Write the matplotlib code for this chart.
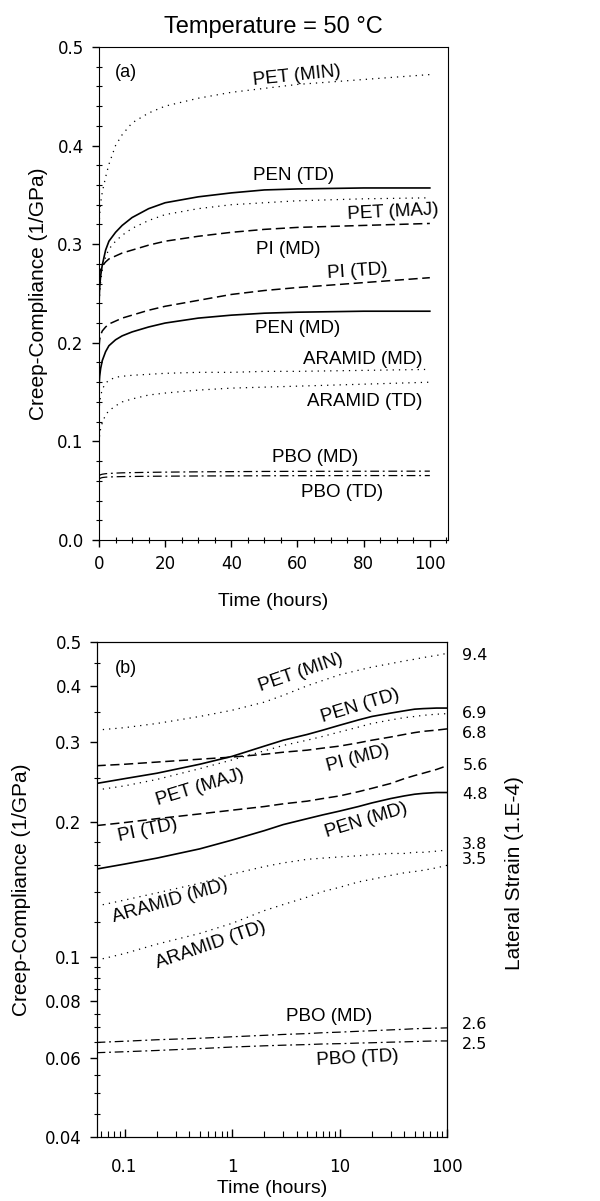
import matplotlib
matplotlib.use("Agg")
import matplotlib.pyplot as plt
import matplotlib.ticker as mticker

plt.rcParams['font.family'] = ['Liberation Sans', 'DejaVu Sans']

# creep data (time in hours, compliance in 1/GPa)
hours = [0.055, 0.1, 0.2, 0.5, 1, 2, 3, 5, 7, 10, 15, 20, 30, 40, 50, 60, 80, 100]
pet_min = [0.319, 0.323, 0.330, 0.342, 0.353, 0.368, 0.381, 0.400, 0.411, 0.423, 0.433, 0.440,
           0.448, 0.454, 0.458, 0.462, 0.467, 0.472]
pen_td = [0.243, 0.249, 0.256, 0.268, 0.279, 0.294, 0.303, 0.312, 0.319, 0.327, 0.336, 0.342,
          0.348, 0.352, 0.355, 0.356, 0.357, 0.357]
pet_maj = [0.235, 0.240, 0.248, 0.262, 0.274, 0.287, 0.295, 0.303, 0.309, 0.316, 0.324, 0.330,
           0.336, 0.340, 0.342, 0.344, 0.346, 0.347]
pi_md = [0.266, 0.268, 0.271, 0.275, 0.278, 0.282, 0.285, 0.288, 0.291, 0.294, 0.299, 0.303,
         0.308, 0.312, 0.315, 0.317, 0.319, 0.321]
pi_td = [0.196, 0.199, 0.203, 0.208, 0.212, 0.216, 0.219, 0.222, 0.225, 0.228, 0.233, 0.237,
         0.243, 0.249, 0.253, 0.256, 0.261, 0.266]
pen_md = [0.157, 0.161, 0.166, 0.174, 0.182, 0.191, 0.197, 0.203, 0.207, 0.211, 0.216, 0.220,
          0.225, 0.228, 0.230, 0.231, 0.232, 0.232]
aramid_md = [0.130, 0.134, 0.139, 0.146, 0.153, 0.159, 0.162, 0.165, 0.166, 0.167, 0.168, 0.169,
             0.170, 0.170, 0.171, 0.171, 0.172, 0.173]
aramid_td = [0.0986, 0.102, 0.107, 0.113, 0.119, 0.127, 0.131, 0.136, 0.140, 0.143, 0.147, 0.149,
             0.152, 0.154, 0.155, 0.156, 0.158, 0.160]
pbo_md = [0.0648, 0.0652, 0.0657, 0.0662, 0.0667, 0.0672, 0.0675, 0.0678, 0.0681, 0.0683, 0.0686,
          0.0688, 0.0691, 0.0693, 0.0695, 0.0696, 0.0697, 0.0698]
pbo_td = [0.0615, 0.0618, 0.0622, 0.0628, 0.0633, 0.0637, 0.0639, 0.0641, 0.0643, 0.0644, 0.0646,
          0.0647, 0.0649, 0.0650, 0.0651, 0.0652, 0.0653, 0.0653]

# lateral strain values shown on the right of panel (b)
strain_labels = ['9.4', '6.9', '6.8', '5.6', '4.8', '3.8', '3.5', '2.6', '2.5']
strain_at = [0.470, 0.350, 0.316, 0.269, 0.232, 0.179, 0.166, 0.0714, 0.0645]

DOT = (0, (1, 4))
DASH = (0, (6, 3))
DASHDOT = (0, (7, 3, 1.5, 3))

curves = [
    (pet_min, DOT, 0.9), (pen_td, '-', 1.2), (pet_maj, DOT, 0.9),
    (pi_md, DASH, 1.1), (pi_td, DASH, 1.1), (pen_md, '-', 1.2),
    (aramid_md, DOT, 0.9), (aramid_td, DOT, 0.9),
    (pbo_md, DASHDOT, 0.9), (pbo_td, DASHDOT, 0.9),
]

# label placement: (text, x, y, rotation)
labels_a = [
    ('PET (MIN)', 59.8, 0.471, 6), ('PEN (TD)', 58.8, 0.370, 0),
    ('PET (MAJ)', 88.8, 0.332, 3), ('PI (MD)', 57.3, 0.295, 0),
    ('PI (TD)', 78.0, 0.272, 4), ('PEN (MD)', 59.9, 0.214, 0),
    ('ARAMID (MD)', 79.8, 0.183, 0), ('ARAMID (TD)', 80.4, 0.140, 0),
    ('PBO (MD)', 65.3, 0.0836, 0), ('PBO (TD)', 73.4, 0.048, 0),
]
labels_b = [
    ('PET (MIN)', 4.38, 0.4287, 19), ('PEN (TD)', 15.7, 0.361, 17),
    ('PET (MAJ)', 0.504, 0.238, 17), ('PI (MD)', 15.0, 0.276, 15),
    ('PI (TD)', 0.163, 0.1908, 12), ('PEN (MD)', 17.9, 0.2015, 17),
    ('ARAMID (MD)', 0.265, 0.1328, 16), ('ARAMID (TD)', 0.634, 0.1063, 19),
    ('PBO (MD)', 7.99, 0.074, 0), ('PBO (TD)', 14.6, 0.0596, 3),
]

fig = plt.figure(figsize=(6, 12.01), dpi=100)
ax_a = fig.add_axes([0.165, 0.5504, 0.5817, 0.4105])
ax_b = fig.add_axes([0.1617, 0.0533, 0.5833, 0.4121])

for vals, ls, lw in curves:
    ax_a.plot(hours, vals, color='black', linestyle=ls, linewidth=lw)
    ax_b.plot(hours, vals, color='black', linestyle=ls, linewidth=lw)

# panel (a): linear axes
ax_a.set_xlim(0, 105.5)
ax_a.set_ylim(0, 0.5)
ax_a.set_xticks([0, 20, 40, 60, 80, 100])
ax_a.set_yticks([0.0, 0.1, 0.2, 0.3, 0.4, 0.5])
ax_a.yaxis.set_major_formatter(mticker.FormatStrFormatter('%.1f'))
ax_a.xaxis.set_minor_locator(mticker.MultipleLocator(5))
ax_a.yaxis.set_minor_locator(mticker.MultipleLocator(0.02))
ax_a.tick_params(which='major', direction='out', length=5, width=1,
                 labelsize=12, labelfontfamily='DejaVu Sans', pad=6)
ax_a.tick_params(which='minor', direction='inout', length=4, width=0.8)
ax_a.set_xlabel('Time (hours)', fontsize=14, labelpad=14)
ax_a.set_ylabel('Creep-Compliance (1/GPa)', fontsize=15)
ax_a.yaxis.set_label_coords(-0.145, 0.5)
ax_a.text(4.8, 0.474, '(a)', fontsize=13, ha='left', va='center')
for txt, x, y, rot in labels_a:
    ax_a.text(x, y, txt, fontsize=13.5, ha='center', va='center',
              rotation=rot, rotation_mode='anchor')

# panel (b): log-log axes
ax_b.set_xscale('log')
ax_b.set_yscale('log')
ax_b.set_xlim(0.0555, 100)
ax_b.set_ylim(0.04, 0.5)
ax_b.set_xticks([0.1, 1, 10, 100])
ax_b.set_xticklabels(['0.1', '1', '10', '100'])
ax_b.set_yticks([0.04, 0.06, 0.08, 0.1, 0.2, 0.3, 0.4, 0.5])
ax_b.set_yticklabels(['0.04', '0.06', '0.08', '0.1', '0.2', '0.3', '0.4', '0.5'])
ax_b.yaxis.set_minor_locator(mticker.FixedLocator(
    [0.045, 0.05, 0.055, 0.065, 0.07, 0.075, 0.085, 0.09, 0.095,
     0.12, 0.14, 0.16, 0.18, 0.25, 0.35, 0.45]))
ax_b.yaxis.set_minor_formatter(mticker.NullFormatter())
ax_b.xaxis.set_minor_formatter(mticker.NullFormatter())
ax_b.tick_params(axis='y', which='major', direction='out', length=5, width=1, pad=6)
ax_b.tick_params(axis='y', which='minor', direction='inout', length=4, width=0.8)
ax_b.tick_params(axis='x', which='major', direction='in', length=6, width=1, pad=15)
ax_b.tick_params(axis='x', which='minor', direction='in', length=4, width=0.8)
ax_b.tick_params(which='major', labelsize=12, labelfontfamily='DejaVu Sans')
ax_b.set_xlabel('Time (hours)', fontsize=14, labelpad=3)
ax_b.set_ylabel('Creep-Compliance (1/GPa)', fontsize=15)
ax_b.yaxis.set_label_coords(-0.19, 0.5)
ax_b.text(0.0816, 0.4377, '(b)', fontsize=13, ha='left', va='center')
for txt, x, y, rot in labels_b:
    ax_b.text(x, y, txt, fontsize=13.5, ha='center', va='center',
              rotation=rot, rotation_mode='anchor')

ax_r = ax_b.twinx()
ax_r.set_yscale('log')
ax_r.set_ylim(0.04, 0.5)
ax_r.set_yticks(strain_at)
ax_r.set_yticklabels(strain_labels)
ax_r.yaxis.set_minor_locator(mticker.NullLocator())
ax_r.tick_params(axis='y', length=0, pad=11, labelsize=11.5, labelfontfamily='DejaVu Sans')
ax_r.set_ylabel('Lateral Strain (1.E-4)', fontsize=15, rotation=90)
ax_r.yaxis.set_label_coords(1.165, 0.533)

fig.text(0.455, 0.9775, 'Temperature = 50 °C', ha='center', va='center', fontsize=17)

fig.savefig('out.png', dpi=100)
